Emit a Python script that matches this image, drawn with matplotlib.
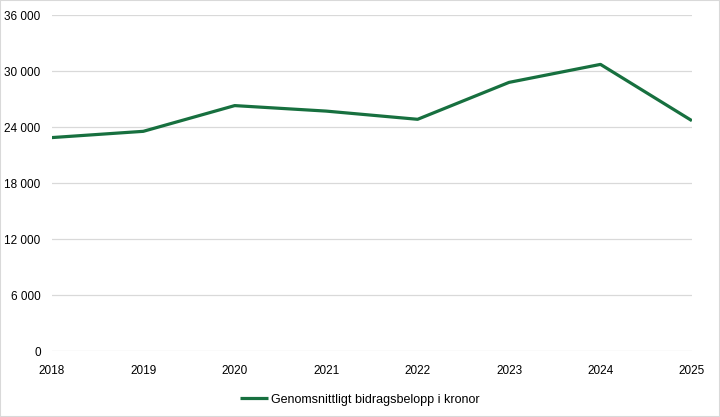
import matplotlib.pyplot as plt
from matplotlib.ticker import FuncFormatter
from matplotlib.patches import Rectangle

plt.rcParams['font.family'] = ['Liberation Sans Narrow', 'Liberation Sans', 'DejaVu Sans']

years = ['2018', '2019', '2020', '2021', '2022', '2023', '2024', '2025']
belopp = [22900, 23570, 26330, 25740, 24860, 28820, 30750, 24710]
y_ticks = [0, 6000, 12000, 18000, 24000, 30000, 36000]
serie_namn = 'Genomsnittligt bidragsbelopp i kronor'

fig = plt.figure(figsize=(7.2, 4.17), dpi=100)
ax = fig.add_axes([0.072, 0.158, 0.889, 0.805])

x = range(len(years))
ax.plot(x, belopp, color='#17703f', linewidth=2.3, solid_capstyle='butt',
        label=serie_namn)

ax.set_xlim(0, len(years) - 1)
ax.set_ylim(0, 36000)
ax.set_yticks(y_ticks)
ax.yaxis.set_major_formatter(FuncFormatter(lambda v, p: f'{int(v):,}'.replace(',', ' ')))
ax.set_xticks(list(x))
ax.set_xticklabels(years)
ax.grid(axis='y', color='#d9d9d9', linewidth=0.9)
ax.set_axisbelow(True)
for s in ax.spines.values():
    s.set_visible(False)
ax.tick_params(length=0, labelsize=8.5, colors='black')
ax.tick_params(axis='y', pad=8)
ax.tick_params(axis='x', pad=10)

fig.legend(loc='lower center', bbox_to_anchor=(0.5, 0.0), frameon=False,
           fontsize=9, handlelength=2.2, handletextpad=0.3)

fig.patches.append(Rectangle((0, 0), 1, 1, transform=fig.transFigure,
                             fill=False, edgecolor='#d9d9d9', linewidth=1.5))

fig.savefig('out.png', dpi=100)
